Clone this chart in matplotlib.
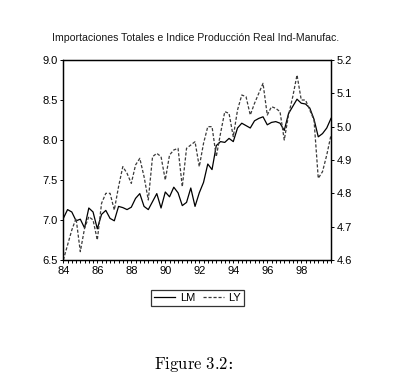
import numpy as np
import matplotlib
matplotlib.use("Agg")
import matplotlib.pyplot as plt
from matplotlib.ticker import MultipleLocator, FixedLocator

# quarterly data 1984Q1 - 1999Q4
start_year = 1984
lm = [7.02, 7.13, 7.10, 6.99, 7.01, 6.90, 7.15, 7.10, 6.89, 7.07,
      7.12, 7.02, 6.99, 7.17, 7.155, 7.13, 7.16, 7.27, 7.33, 7.17,
      7.13, 7.23, 7.33, 7.15, 7.35, 7.29, 7.41, 7.34, 7.18, 7.22,
      7.40, 7.17, 7.34, 7.47, 7.70, 7.63, 7.93, 7.98, 7.97, 8.02,
      7.98, 8.15, 8.21, 8.18, 8.15, 8.24, 8.27, 8.29, 8.19, 8.22,
      8.23, 8.21, 8.12, 8.33, 8.42, 8.51, 8.46, 8.45, 8.40, 8.26,
      8.04, 8.08, 8.15, 8.27]
ly = [4.60, 4.645, 4.69, 4.725, 4.625, 4.695, 4.73, 4.72, 4.66, 4.77,
      4.80, 4.80, 4.75, 4.82, 4.88, 4.86, 4.83, 4.885, 4.905, 4.85,
      4.78, 4.91, 4.92, 4.91, 4.84, 4.915, 4.93, 4.935, 4.82, 4.935,
      4.945, 4.955, 4.88, 4.95, 5.00, 5.00, 4.91, 4.98, 5.045, 5.04,
      4.97, 5.05, 5.095, 5.09, 5.035, 5.07, 5.10, 5.13, 5.035, 5.06,
      5.055, 5.045, 4.96, 5.035, 5.09, 5.155, 5.08, 5.08, 5.05, 5.02,
      4.845, 4.865, 4.915, 4.975]
year_ticks = [1984, 1986, 1988, 1990, 1992, 1994, 1996, 1998]
year_labels = ['84', '86', '88', '90', '92', '94', '96', '98']

t = start_year + np.arange(len(lm)) / 4.0

plt.rcParams['font.family'] = ['Liberation Sans', 'DejaVu Sans']
plt.rcParams['mathtext.fontset'] = 'cm'

fig = plt.figure(figsize=(4.09, 3.81), dpi=100)
ax1 = fig.add_axes([0.1548, 0.3176, 0.6545, 0.5249])
ax2 = ax1.twinx()

l1, = ax1.plot(t, lm, color='black', lw=0.9, label='LM')
l2, = ax2.plot(t, ly, color='#3a3a3a', lw=0.9, dashes=(2.5, 1.5), label='LY')

ax1.set_xlim(t[0], t[-1])
ax1.set_ylim(6.5, 9.0)
ax2.set_ylim(4.6, 5.2)
ax1.yaxis.set_major_locator(MultipleLocator(0.5))
ax2.yaxis.set_major_locator(MultipleLocator(0.1))
ax1.yaxis.set_major_formatter('{x:.1f}')
ax2.yaxis.set_major_formatter('{x:.1f}')
ax1.xaxis.set_major_locator(FixedLocator(year_ticks))
ax1.set_xticklabels(year_labels)
ax1.xaxis.set_minor_locator(FixedLocator(t))

for a in (ax1, ax2):
    a.tick_params(which='both', direction='out', length=2.5, width=0.7,
                  labelsize=8, pad=1.5, colors='black')
    for s in a.spines.values():
        s.set_linewidth(0.9)

fig.text(0.478, 0.900, 'Importaciones Totales e Indice Producción Real Ind-Manufac.',
         ha='center', va='center', fontsize=7.6, color='#1a1a1a')

leg = fig.legend(handles=[l1, l2], loc='center', bbox_to_anchor=(0.483, 0.218),
                 ncol=2, fontsize=8, frameon=True, fancybox=False,
                 handlelength=1.9, handletextpad=0.4, columnspacing=0.7,
                 borderpad=0.25, borderaxespad=0)
leg.get_frame().set_edgecolor('black')
leg.get_frame().set_linewidth(0.9)

fig.text(0.474, 0.042, r'$\mathrm{Figure\ 3.2}$:', ha='center', va='center',
         fontsize=12, family=['DejaVu Serif'])

fig.savefig('out.png', dpi=100)
